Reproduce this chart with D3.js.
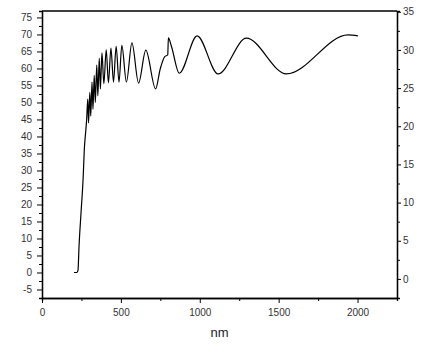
<!DOCTYPE html>
<html lang="en">

<head>
    <meta charset="UTF-8">
    <script src="https://d3js.org/d3.v7.min.js"></script>
    <title>Spectrum</title>
    <style>
        body { margin: 0; background: #fff; }
        .axis text { font: 10px Arial, "Liberation Sans", sans-serif; fill: #333; }
        .axis path, .axis line { stroke: #000; }
    </style>
</head>

<body>
    <script>
        var width = 436,
            height = 354,
            margin = { top: 11, right: 39, bottom: 56, left: 42 };

        // wavelength (nm) and signal
        var wavelength = [203, 220, 228, 235, 248, 261, 268, 278, 283,
            290, 295, 303, 309, 317, 323, 331, 338, 347, 354, 363, 370,
            380, 392, 407, 421, 437, 453, 470, 488, 506, 535, 570, 612, 658, 720,
            750, 778, 797, 801, 821, 870, 983, 1116, 1295, 1549, 1940, 2002];
        var signal = [0, 0, 0.6, 8, 18, 28, 36, 42, 45,
            51, 44, 53, 46, 56, 48, 58, 50, 61, 52, 63, 54,
            64.6, 55.5, 65.5, 55.8, 66, 56, 66.5, 56, 66.8, 56, 67.5, 55.7, 65.4, 54,
            60, 63.5, 64, 69, 66.4, 58.6, 69.6, 58.4, 68.9, 58.4, 69.9, 69.6];

        var xTicks = [0, 500, 1000, 1500, 2000],
            xMinor = [250, 750, 1250, 1750, 2250],
            leftTicks = [-5, 0, 5, 10, 15, 20, 25, 30, 35, 40, 45, 50, 55, 60, 65, 70, 75],
            leftMinor = [-7.5, -2.5, 2.5, 7.5, 12.5, 17.5, 22.5, 27.5, 32.5, 37.5, 42.5, 47.5, 52.5, 57.5, 62.5, 67.5, 72.5],
            rightTicks = [0, 5, 10, 15, 20, 25, 30, 35],
            rightMinor = [-2.5, 2.5, 7.5, 12.5, 17.5, 22.5, 27.5, 32.5];

        var data = wavelength.map(function (d, i) { return { x: d, y: signal[i] }; });

        // plain labels: no thousands comma, hyphen for minus
        var plain = function (d) { return String(d); };

        var svg = d3.select("body").append("svg")
            .attr("width", width)
            .attr("height", height);

        var x = d3.scaleLinear().domain([0, 2250]).range([margin.left, width - margin.right]);
        var y = d3.scaleLinear().domain([-7.5, 76.9]).range([height - margin.bottom, margin.top]);
        var y2 = d3.scaleLinear().domain([-2.5, 35.1]).range([height - margin.bottom, margin.top]);

        // top frame line
        svg.append("line")
            .attr("x1", margin.left).attr("x2", width - margin.right)
            .attr("y1", margin.top).attr("y2", margin.top)
            .attr("stroke", "#000").attr("stroke-width", 1.3);

        // minor ticks first
        svg.append("g").attr("class", "axis")
            .attr("transform", "translate(0," + (height - margin.bottom) + ")")
            .call(d3.axisBottom(x).tickValues(xMinor).tickSize(3).tickFormat(""));
        svg.append("g").attr("class", "axis")
            .attr("transform", "translate(" + margin.left + ",0)")
            .call(d3.axisLeft(y).tickValues(leftMinor).tickSize(3).tickFormat(""));
        svg.append("g").attr("class", "axis")
            .attr("transform", "translate(" + (width - margin.right) + ",0)")
            .call(d3.axisRight(y2).tickValues(rightMinor).tickSize(3).tickFormat(""));

        // major axes
        svg.append("g").attr("class", "axis")
            .attr("transform", "translate(0," + (height - margin.bottom) + ")")
            .call(d3.axisBottom(x).tickValues(xTicks).tickFormat(plain).tickSize(5).tickSizeOuter(0).tickPadding(6));
        svg.append("g").attr("class", "axis")
            .attr("transform", "translate(" + margin.left + ",0)")
            .call(d3.axisLeft(y).tickValues(leftTicks).tickFormat(plain).tickSize(5).tickSizeOuter(0).tickPadding(5));
        svg.append("g").attr("class", "axis")
            .attr("transform", "translate(" + (width - margin.right) + ",0)")
            .call(d3.axisRight(y2).tickValues(rightTicks).tickFormat(plain).tickSize(4).tickSizeOuter(0).tickPadding(2));

        svg.selectAll(".axis path").attr("stroke-width", 1.3);

        // x axis title
        svg.append("text")
            .attr("text-anchor", "middle")
            .attr("x", (margin.left + width - margin.right) / 2)
            .attr("y", 337)
            .style("font", "13px Arial, 'Liberation Sans', sans-serif")
            .style("fill", "#222")
            .text("nm");

        var line = d3.line()
            .x(function (d) { return x(d.x); })
            .y(function (d) { return y(d.y); })
            .curve(d3.curveMonotoneX);

        svg.append("path")
            .datum(data)
            .attr("fill", "none")
            .attr("stroke", "#000")
            .attr("stroke-width", 1.2)
            .attr("d", line);
    </script>
</body>

</html>
